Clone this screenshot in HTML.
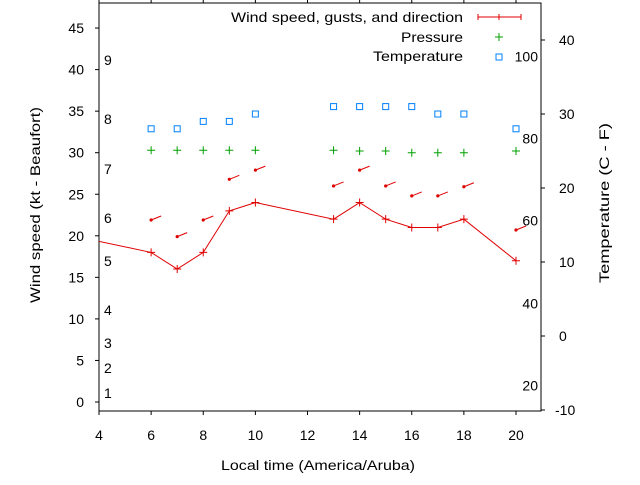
<!DOCTYPE html>
<html><head><meta charset="utf-8"><style>
body{margin:0;background:#fff}
svg text{font-family:"Liberation Sans",sans-serif;font-size:14px;fill:#000}
</style></head><body>
<svg id="c" width="640" height="480" xmlns="http://www.w3.org/2000/svg">
<defs><clipPath id="pc"><rect x="99" y="3" width="442" height="408"/></clipPath></defs>
<g id="axes"></g>
<g id="marks" clip-path="url(#pc)"></g>
<g id="legend"></g>
</svg>
<script>
const hours=[3,6,7,8,9,10,13,14,15,16,17,18,20];
const windSpeed=[20,18,16,18,23,24,22,24,22,21,21,22,17];
const gustHours=[6,7,8,9,10,13,14,15,16,17,18,20];
const gusts=[21.9,19.9,21.9,26.8,27.9,26,27.9,26,24.8,24.8,25.9,20.7];
const pressure=[30.3,30.3,30.3,30.3,30.3,30.3,30.2,30.2,30.0,30.0,30.0,30.2];
const tempC=[28,28,29,29,30,31,31,31,31,30,30,28];
const xTicks=[4,6,8,10,12,14,16,18,20];
const yTicks=[0,5,10,15,20,25,30,35,40,45];
const y2Ticks=[-10,0,10,20,30,40];
const beaufort=[[1,393],[2,368],[3,343],[4,310],[5,261],[6,218],[7,169],[8,119],[9,60]];
const fahr=[[20,-6.7],[40,4.4],[60,15.6],[80,26.7],[100,37.8]];

const X=t=>99+(t-4)*26.0625;
const Y=v=>402-v*8.31;
const Y2=v=>410-(v+10)*7.4;
const NS="http://www.w3.org/2000/svg";
function mk(p,tag,a,txt){const e=document.createElementNS(NS,tag);for(const k in a)e.setAttribute(k,a[k]);if(txt!==undefined)e.textContent=txt;document.getElementById(p).appendChild(e);return e;}

let e;
e=mk('axes','rect',{x:99,y:3,width:442,height:408,fill:'none',stroke:'#000','stroke-width':1});


xTicks.forEach(t=>{
 e=mk('axes','line',{x1:X(t),x2:X(t),y1:411,y2:415,stroke:'#000'});
 
 
 e=mk('axes','line',{x1:X(t),x2:X(t),y1:3,y2:-1,stroke:'#000'});
 
 
 e=mk('axes','text',{x:X(t),y:440,'text-anchor':'middle'},t);
 
 
});
yTicks.forEach(v=>{
 e=mk('axes','line',{x1:95,x2:99,y1:Y(v),y2:Y(v),stroke:'#000'});
 
 
 e=mk('axes','text',{x:84,y:Y(v)+5,'text-anchor':'end'},v);
 
 
});
y2Ticks.forEach(v=>{
 e=mk('axes','line',{x1:541,x2:545,y1:Y2(v),y2:Y2(v),stroke:'#000'});
 
 
 e=mk('axes','text',{x:v<0?555:559,y:Y2(v)+5},v);
 
 
});
beaufort.forEach(b=>{
 e=mk('axes','text',{x:104,y:b[1]+5},b[0]);
 
 
});
fahr.forEach(f=>{
 e=mk('axes','text',{x:538,y:Y2(f[1])+5,'text-anchor':'end'},f[0]);
 
 
});
e=mk('axes','text',{x:221,y:470,textLength:194,lengthAdjust:'spacingAndGlyphs'},'Local time (America/Aruba)');


e=mk('axes','text',{x:40,y:303,textLength:196,lengthAdjust:'spacingAndGlyphs',transform:'rotate(-90 40 303)'},'Wind speed (kt - Beaufort)');


e=mk('axes','text',{x:609,y:283,textLength:160,lengthAdjust:'spacingAndGlyphs',transform:'rotate(-90 609 283)'},'Temperature (C - F)');



e=mk('marks','polyline',{points:hours.map((h,i)=>X(h)+','+Y(windSpeed[i])).join(' '),fill:'none',stroke:'#e00000','stroke-width':1});


hours.forEach((h,i)=>{
 e=mk('marks','path',{d:`M${X(h)-4},${Y(windSpeed[i])}h8M${X(h)},${Y(windSpeed[i])-4}v8`,stroke:'#e00000'});
 
 
});
gustHours.forEach((h,i)=>{
 const x=X(h),y=Y(gusts[i]);
 e=mk('marks','path',{d:`M${x},${y}L${x+10},${y-4}`,stroke:'#e00000','stroke-width':1});
 
 
 e=mk('marks','circle',{cx:x,cy:y,r:1.6,fill:'#e00000'});
 
 
 e=mk('marks','path',{d:`M${x-4},${Y(pressure[i])}h8M${x},${Y(pressure[i])-4}v8`,stroke:'#00a000'});
 
 
 e=mk('marks','rect',{x:x-3,y:Y2(tempC[i])-3,width:6,height:6,fill:'none',stroke:'#0080ff','stroke-width':1});
 
 
});

e=mk('legend','text',{x:231,y:22,textLength:232,lengthAdjust:'spacingAndGlyphs'},'Wind speed, gusts, and direction');


e=mk('legend','path',{d:'M478,17h43M478,14v6M521,14v6M499,14v6',stroke:'#e00000'});


e=mk('legend','text',{x:401,y:42,textLength:62,lengthAdjust:'spacingAndGlyphs'},'Pressure');


e=mk('legend','path',{d:'M495,37h8M499,33v8',stroke:'#00a000'});


e=mk('legend','text',{x:373,y:61,textLength:90,lengthAdjust:'spacingAndGlyphs'},'Temperature');


e=mk('legend','rect',{x:496,y:54,width:6,height:6,fill:'none',stroke:'#0080ff'});


</script>
</body></html>
